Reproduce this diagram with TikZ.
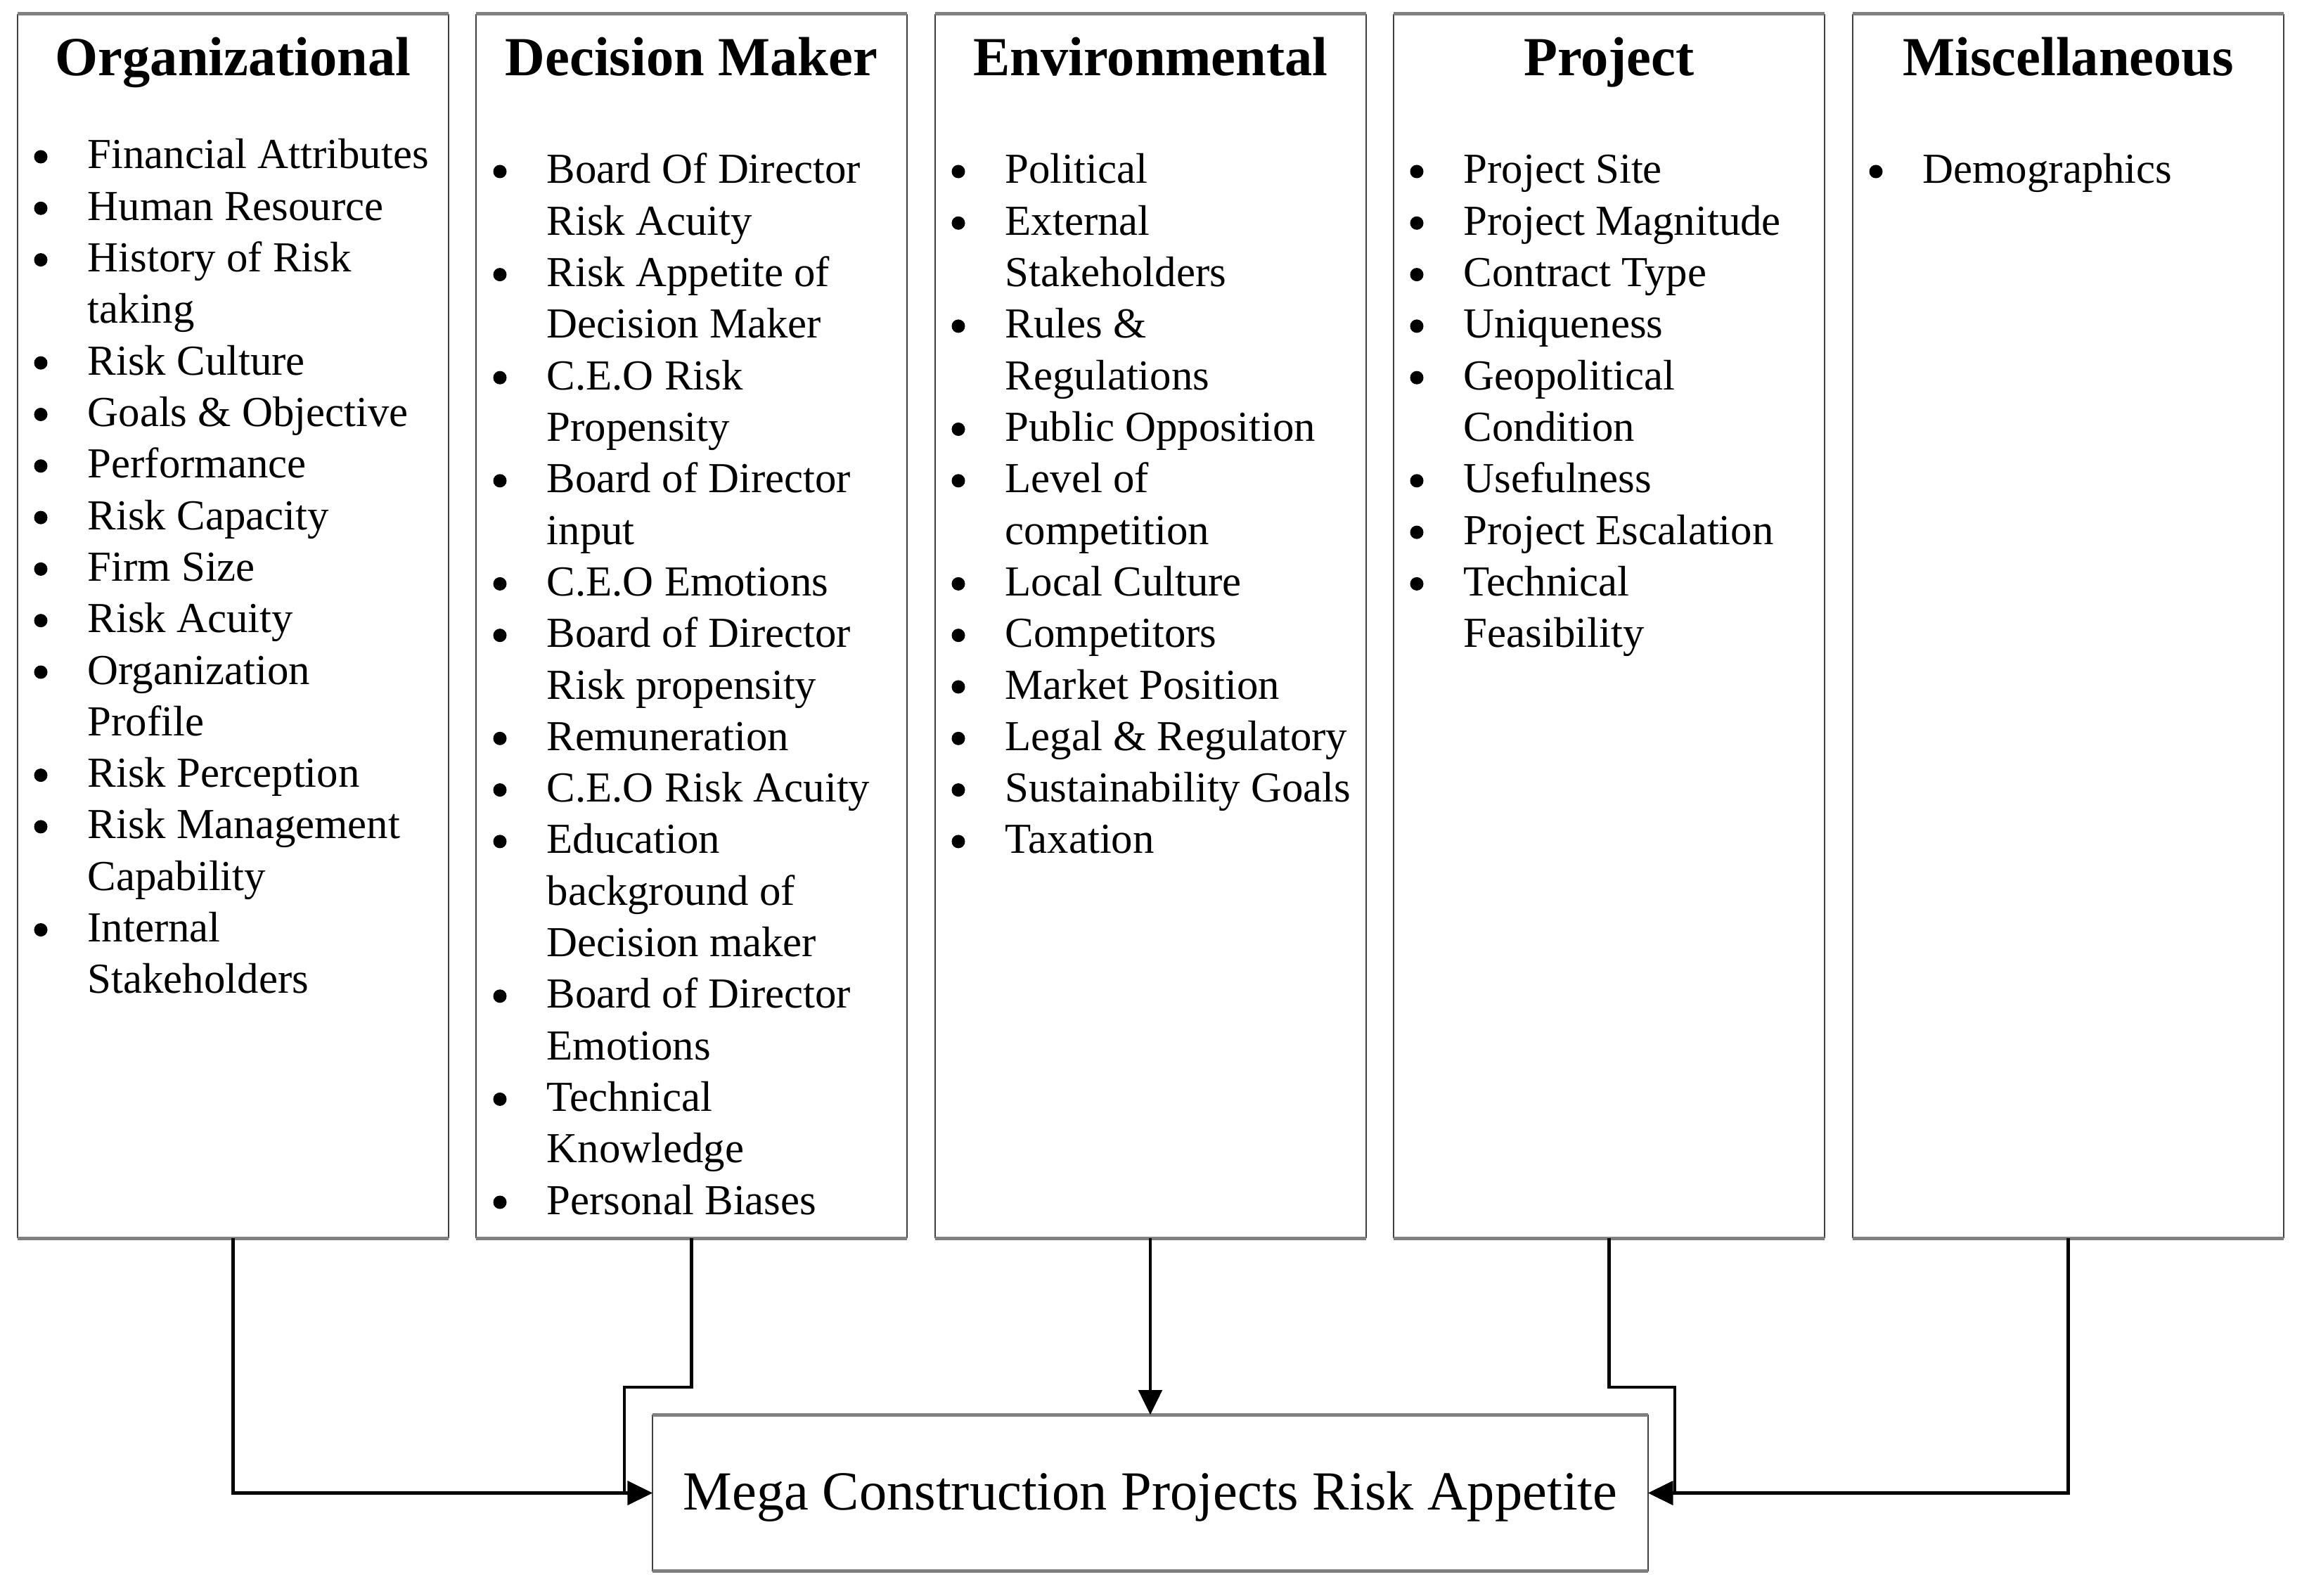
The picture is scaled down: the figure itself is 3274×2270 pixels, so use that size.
\documentclass[tikz,border=0pt]{standalone}
\usepackage{fontspec}
\setmainfont{Liberation Serif}
\usetikzlibrary{arrows.meta}
\newcommand\mycolumn[4]{%
  \foreach \mb/\mt [count=\mi] in {#4} {%
    \node[itm] (#1t\mi) at (#2, {#3+73.3*(\mi-1)}) {\mt};
    \ifnum\mb=1 \node[bul] (#1b\mi) at (#2-66, {#3-17+73.3*(\mi-1)}) {};\fi
  }}
\begin{document}
\begin{tikzpicture}[x=0.01cm,y=-0.01cm,
  colbox/.style={draw=none,minimum width=6.11cm,minimum height=17.39cm,inner sep=0},
  side/.style={draw=black!75,line width=0.6pt},
  edge/.style={draw=black!50,line width=1.4pt},
  title/.style={font=\fontsize{22.3}{26}\selectfont\bfseries,anchor=base,inner sep=0},
  itm/.style={font=\fontsize{17.3}{20.8}\selectfont,anchor=base west,inner sep=0},
  bul/.style={circle,fill=black,minimum size=0.19cm,inner sep=0},
  goalbox/.style={draw=none,minimum width=14.14cm,minimum height=2.21cm,inner sep=0,
    font=\fontsize{22.3}{26}\selectfont,text height=0.58cm,text depth=0.1cm},
  conn/.style={line width=1.2pt,-{Triangle[length=10pt,width=9.5pt]}},
]
\useasboundingbox (0,0) rectangle (3274,2270);
\fill[white] (0,0) rectangle (3274,2270);

\node[colbox] (b1) at (331.5,890.5) {};
\node[colbox] (b2) at (983.5,890.5) {};
\node[colbox] (b3) at (1636.5,890.5) {};
\node[colbox] (b4) at (2288.5,890.5) {};
\node[colbox] (b5) at (2941.5,890.5) {};
\node[goalbox] (goal) at (1636,2123.5) {Mega Construction Projects Risk Appetite};

\foreach \b in {b1,b2,b3,b4,b5,goal} {
  \draw[side] (\b.north west) -- (\b.south west) (\b.north east) -- (\b.south east);
  \draw[edge] (\b.north west) -- (\b.north east) (\b.south west) -- (\b.south east);
}

\node[title] (h1) at (331.5,108) {Organizational};
\node[title] (h2) at (983.5,108) {Decision Maker};
\node[title] (h3) at (1636.5,108) {Environmental};
\node[title] (h4) at (2288.5,108) {Project};
\node[title] (h5) at (2941.5,108) {Miscellaneous};

\mycolumn{ca}{124}{240}{1/Financial Attributes,1/Human Resource,1/History of Risk,0/taking,1/Risk Culture,1/Goals \& Objective,1/Performance,1/Risk Capacity,1/Firm Size,1/Risk Acuity,1/Organization,0/Profile,1/Risk Perception,1/Risk Management,0/Capability,1/Internal,0/Stakeholders}
\mycolumn{cb}{777}{261}{1/Board Of Director,0/Risk Acuity,1/Risk Appetite of,0/Decision Maker,1/C.E.O Risk,0/Propensity,1/Board of Director,0/input,1/C.E.O Emotions,1/Board of Director,0/Risk propensity,1/Remuneration,1/C.E.O Risk Acuity,1/Education,0/background of,0/Decision maker,1/Board of Director,0/Emotions,1/Technical,0/Knowledge,1/Personal Biases}
\mycolumn{cc}{1429}{261}{1/Political,1/External,0/Stakeholders,1/Rules \&,0/Regulations,1/Public Opposition,1/Level of,0/competition,1/Local Culture,1/Competitors,1/Market Position,1/Legal \& Regulatory,1/Sustainability Goals,1/Taxation}
\mycolumn{cd}{2081}{261}{1/Project Site,1/Project Magnitude,1/Contract Type,1/Uniqueness,1/Geopolitical,0/Condition,1/Usefulness,1/Project Escalation,1/Technical,0/Feasibility}
\mycolumn{ce}{2734}{261}{1/Demographics}

\coordinate (k2) at (888,1973);
\coordinate (k4) at (2382,1973);
\draw[conn] (b1.south) |- (goal.west);
\draw[conn] (b2.south) |- (k2) |- (goal.west);
\draw[conn] (b3.south -| goal.north) -- (goal.north);
\draw[conn] (b4.south) |- (k4) |- (goal.east);
\draw[conn] (b5.south) |- (goal.east);
\end{tikzpicture}
\end{document}
